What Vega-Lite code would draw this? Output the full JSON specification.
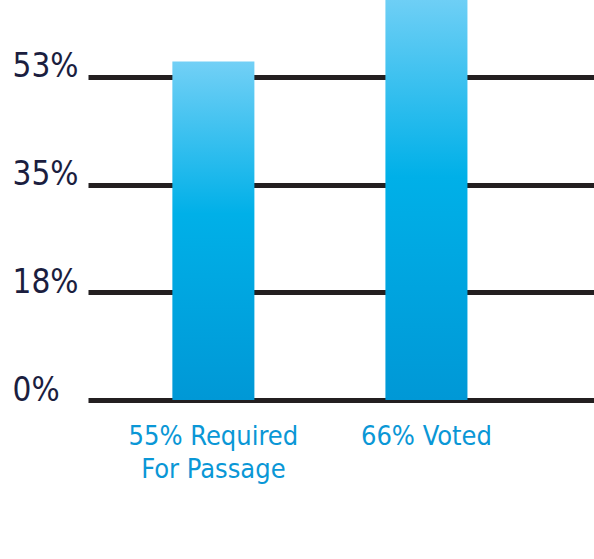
{
  "$schema": "https://vega.github.io/schema/vega-lite/v6.json",
  "autosize": "none",
  "width": 506,
  "height": 400,
  "padding": {"left": 88, "top": 0, "right": 0, "bottom": 159},
  "background": "white",
  "config": {"view": {"stroke": null}},
  "data": {"values": [
    {"category": "55% Required For Passage", "value": 55},
    {"category": "66% Voted", "value": 66}
  ]},
  "mark": {
    "type": "bar",
    "clip": true,
    "color": {
      "gradient": "linear",
      "x1": 0, "y1": 0, "x2": 0, "y2": 1,
      "stops": [
        {"offset": 0, "color": "#72d0f6"},
        {"offset": 0.45, "color": "#00b0e8"},
        {"offset": 1, "color": "#0098d6"}
      ]
    }
  },
  "encoding": {
    "x": {
      "field": "category",
      "type": "nominal",
      "sort": null,
      "scale": {"paddingInner": 0.615, "paddingOuter": 0.495, "align": 0.4},
      "axis": {
        "title": null,
        "domain": false,
        "ticks": false,
        "labelAngle": 0,
        "labelFont": "DejaVu Sans Condensed, Liberation Sans Narrow, Roboto, sans-serif",
        "labelFontSize": 27,
        "labelColor": "#0a97d6",
        "labelLimit": 0,
        "labelBaseline": "top",
        "labelPadding": 23,
        "labelLineHeight": 33,
        "labelExpr": "datum.value == '55% Required For Passage' ? ['55% Required', 'For Passage'] : datum.value"
      }
    },
    "y": {
      "field": "value",
      "type": "quantitative",
      "scale": {"domain": [0, 65], "nice": false, "zero": true},
      "axis": {
        "title": null,
        "domain": false,
        "ticks": false,
        "values": [0, 17.5, 35, 52.5],
        "labelExpr": "round(datum.value) + '%'",
        "labelFont": "DejaVu Sans Condensed, Liberation Sans Narrow, Roboto, sans-serif",
        "labelFontSize": 33,
        "labelColor": "#1b1e3f",
        "labelAlign": "left",
        "labelBaseline": "alphabetic",
        "labelPadding": 76,
        "grid": true,
        "gridColor": "#231f20",
        "gridWidth": 5,
        "gridOpacity": 1
      }
    }
  }
}
